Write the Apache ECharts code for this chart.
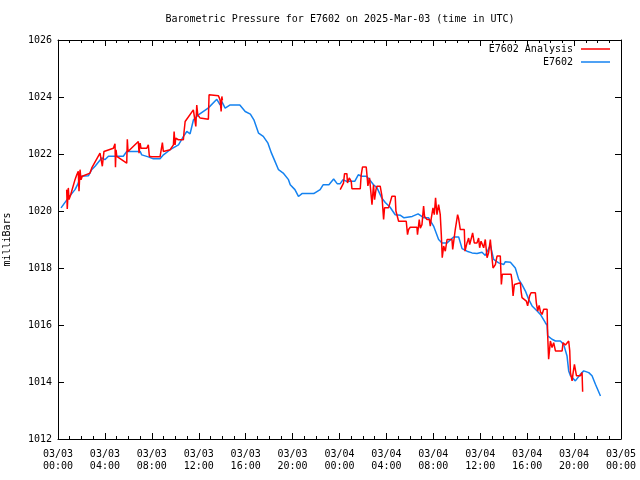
<!DOCTYPE html>
<html>
<head>
<meta charset="utf-8">
<script src="https://cdn.jsdelivr.net/npm/echarts@6/dist/echarts.min.js"></script>
<style>html,body{margin:0;padding:0;background:#fff}#c{width:640px;height:480px}</style>
</head>
<body>
<div id="c"></div>
<script>
// Hours since 2025-03-03 00:00 UTC
var xTickLabels = ['03/03\n00:00','03/03\n04:00','03/03\n08:00','03/03\n12:00','03/03\n16:00','03/03\n20:00',
  '03/04\n00:00','03/04\n04:00','03/04\n08:00','03/04\n12:00','03/04\n16:00','03/04\n20:00','03/05\n00:00'];

var obsTimes = [0.26,0.88,1.45,1.73,1.88,2.6,2.87,3.16,3.73,4.0,4.3,5.57,5.86,7.0,7.14,7.7,8.13,8.7,8.99,9.56,
  10.27,10.7,10.98,11.26,11.55,11.97,12.8,13.54,13.82,13.97,14.25,14.68,15.5,15.96,16.4,16.7,17.1,17.5,17.9,18.2,
  18.5,18.8,19.2,19.65,19.8,20.2,20.5,20.8,21.8,22.35,22.6,23.1,23.5,23.8,24.06,24.3,24.6,25.3,25.6,25.9,
  26.3,26.6,26.9,27.2,27.6,27.9,28.3,28.75,29.2,29.5,30.2,30.7,31.2,31.6,32.02,32.45,32.74,33.17,33.73,34.16,
  34.45,34.87,35.3,35.72,36.15,36.43,36.86,37.14,37.57,38.0,38.14,38.57,38.71,38.99,39.28,39.56,39.85,40.13,40.42,40.85,
  41.13,41.55,41.7,41.75,42.12,42.41,42.83,43.11,43.4,43.54,43.69,44.11,44.54,44.82,45.25,45.53,45.82,46.25];
var obsValues = [1020.11,1020.46,1020.75,1020.98,1021.22,1021.24,1021.45,1021.57,1021.86,1021.8,1021.92,1021.92,1022.09,1022.09,1021.97,1021.9,1021.83,1021.83,1021.97,1022.15,
  1022.32,1022.62,1022.79,1022.71,1023.2,1023.37,1023.61,1023.92,1023.72,1023.84,1023.61,1023.72,1023.72,1023.49,1023.4,1023.2,1022.73,1022.62,1022.38,1022.03,
  1021.74,1021.45,1021.33,1021.1,1020.92,1020.75,1020.51,1020.61,1020.61,1020.75,1020.92,1020.92,1021.12,1020.96,1020.96,1021.1,1021.04,1021.04,1021.27,1021.22,
  1021.22,1021.08,1020.92,1020.81,1020.46,1020.3,1020.14,1019.87,1019.85,1019.76,1019.81,1019.9,1019.76,1019.76,1019.47,1019.0,1018.88,1018.88,1019.09,1019.09,
  1018.68,1018.59,1018.53,1018.51,1018.55,1018.44,1018.8,1018.3,1018.18,1018.12,1018.22,1018.2,1018.24,1018.0,1017.6,1017.42,1017.19,1016.9,1016.67,1016.49,
  1016.37,1016.08,1015.99,1015.62,1015.5,1015.44,1015.44,1015.32,1014.91,1014.39,1014.22,1014.04,1014.27,1014.39,1014.33,1014.22,1013.92,1013.51];

var anaTimes1 = [0.74,0.79,0.88,0.94,1.08,1.22,1.45,1.6,1.73,1.79,1.88,1.96,2.07,2.73,2.88,3.58,3.73,3.78,3.92,4.72,
  4.86,4.9,4.95,5.01,5.86,5.91,5.97,6.85,6.91,7.0,7.08,7.57,7.7,7.79,7.99,8.7,8.9,8.98,9.13,9.56,
  9.84,9.9,9.98,10.04,10.26,10.69,10.75,10.84,10.98,11.54,11.69,11.75,11.83,11.92,12.12,12.82,12.88,13.68,13.82,13.91,13.97,14.02];
var anaValues1 = [1020.75,1020.07,1020.81,1020.4,1020.57,1020.57,1021.1,1021.27,1021.39,1020.69,1021.45,1021.1,1021.22,1021.33,1021.51,1022.03,1022.09,1021.57,1022.09,1022.2,
  1022.36,1021.54,1022.15,1021.92,1021.68,1022.52,1022.09,1022.44,1022.03,1022.38,1022.2,1022.2,1022.32,1021.92,1021.9,1021.9,1022.4,1022.09,1022.05,1022.15,
  1022.32,1022.79,1022.32,1022.56,1022.5,1022.5,1022.79,1023.14,1023.14,1023.55,1023.61,1022.97,1023.72,1023.37,1023.26,1023.22,1024.08,1024.04,1023.9,1023.49,1024.02,1023.88];

var anaTimes2 = [24.06,24.34,24.43,24.63,24.68,24.83,25.0,25.06,25.77,25.85,25.96,26.28,26.34,26.42,26.56,26.68,26.77,26.9,26.99,27.11,
  27.19,27.47,27.62,27.76,27.84,28.18,28.47,28.75,28.81,29.04,29.69,29.8,29.89,30.03,30.6,30.65,30.8,30.89,31.03,31.17,
  31.25,31.46,31.66,31.74,31.83,31.97,32.08,32.19,32.31,32.45,32.59,32.68,32.76,32.88,33.02,33.17,33.59,33.65,33.87,34.07,
  34.15,34.3,34.64,34.7,34.87,35.01,35.1,35.24,35.35,35.49,35.72,35.86,35.95,36.07,36.29,36.43,36.58,36.71,36.86,37.0,
  37.09,37.29,37.43,37.71,37.8,37.88,38.63,38.71,38.8,38.91,38.99,39.42,39.48,39.56,39.7,39.93,40.04,40.21,40.33,40.7,
  40.78,40.9,41.02,41.13,41.27,41.41,41.7,41.75,41.83,41.98,42.12,42.26,42.41,42.98,43.06,43.26,43.54,43.63,43.69,43.83,
  43.92,44.03,44.11,44.2,44.31,44.54,44.68,44.73];
var anaValues2 = [1020.75,1020.98,1021.31,1021.31,1020.98,1021.16,1021.04,1020.78,1020.78,1021.27,1021.54,1021.54,1021.27,1020.88,1021.16,1020.63,1020.22,1020.92,1020.4,1020.75,
  1020.87,1020.87,1020.52,1019.7,1020.11,1020.11,1020.52,1020.52,1020.0,1019.64,1019.64,1019.17,1019.35,1019.43,1019.43,1019.17,1019.7,1019.4,1019.52,1020.17,
  1019.81,1019.7,1019.7,1019.47,1019.76,1020.11,1019.87,1020.46,1019.87,1020.22,1019.87,1019.17,1018.36,1018.77,1018.59,1019.0,1019.0,1018.65,1019.35,1019.87,
  1019.75,1019.35,1019.35,1018.59,1018.88,1019.05,1018.82,1018.82,1019.23,1018.88,1018.88,1019.05,1018.71,1018.94,1018.71,1019.0,1018.36,1018.53,1019.0,1018.36,
  1018.0,1018.12,1018.42,1018.42,1017.42,1017.78,1017.78,1017.55,1017.02,1017.42,1017.48,1017.48,1017.19,1016.96,1016.9,1016.84,1016.67,1017.02,1017.13,1017.13,
  1016.78,1016.49,1016.69,1016.46,1016.37,1016.55,1016.55,1015.62,1014.8,1015.44,1015.21,1015.38,1015.09,1015.09,1015.38,1015.3,1015.44,1015.09,1014.33,1014.04,
  1014.33,1014.62,1014.68,1014.22,1014.16,1014.22,1014.33,1013.66];

function zip(t, v) { return t.map(function (x, i) { return [x, v[i]]; }); }
var anaData = zip(anaTimes1, anaValues1).concat([[19, null]], zip(anaTimes2, anaValues2));
var obsData = zip(obsTimes, obsValues);

var FONT = 'DejaVu Sans Mono';
var txt = { fontFamily: FONT, fontSize: 10, color: '#000' };
var lineS = { color: '#000', width: 1 };

var baseX = {
  type: 'value', min: 0, max: 48, interval: 4,
  axisLine: { show: true, onZero: false, lineStyle: lineS },
  axisTick: { show: true, inside: true, length: 6, lineStyle: lineS },
  minorTick: { show: true, splitNumber: 4, length: 3, lineStyle: lineS },
  splitLine: { show: false }, minorSplitLine: { show: false }
};
var baseY = {
  type: 'value', min: 1012, max: 1026, interval: 2,
  axisLine: { show: true, onZero: false, lineStyle: lineS },
  axisTick: { show: true, inside: true, length: 6, lineStyle: lineS },
  splitLine: { show: false }
};

var chart = echarts.init(document.getElementById('c'), null, { renderer: 'canvas' });
chart.setOption({
  animation: false,
  backgroundColor: '#fff',
  title: {
    text: 'Barometric Pressure for E7602 on 2025-Mar-03 (time in UTC)',
    left: 340, top: 14, textAlign: 'center', padding: 0,
    textStyle: { fontFamily: FONT, fontSize: 10, fontWeight: 'normal', color: '#000' }
  },
  grid: { left: 58, right: 19, top: 40, bottom: 41, containLabel: false, outerBoundsMode: 'none' },
  legend: [
    { data: ['E7602 Analysis'], orient: 'vertical', right: 30, top: 44, align: 'right', padding: 0,
      itemWidth: 29, itemHeight: 1.5, icon: 'rect', textStyle: { fontFamily: FONT, fontSize: 10, color: '#000', padding: [0, 3, 0, 0] } },
    { data: ['E7602'], orient: 'vertical', right: 30, top: 57, align: 'right', padding: 0,
      itemWidth: 29, itemHeight: 1.5, icon: 'rect', textStyle: { fontFamily: FONT, fontSize: 10, color: '#000', padding: [0, 3, 0, 0] } }
  ],
  xAxis: [
    Object.assign({}, baseX, {
      position: 'bottom',
      axisLabel: { show: true, margin: 9, lineHeight: 12, fontFamily: FONT, fontSize: 10, color: '#000',
        formatter: function (v) { return xTickLabels[Math.round(v / 4)]; } }
    }),
    Object.assign({}, baseX, { position: 'top', axisLabel: { show: false } })
  ],
  yAxis: [
    Object.assign({}, baseY, {
      position: 'left',
      name: 'milliBars', nameLocation: 'middle', nameGap: 46, nameRotate: 90,
      nameTextStyle: txt,
      axisLabel: { show: true, margin: 6, fontFamily: FONT, fontSize: 10, color: '#000',
        formatter: function (v) { return String(v); } }
    }),
    Object.assign({}, baseY, { position: 'right', axisLabel: { show: false } })
  ],
  series: [
    { name: 'E7602 Analysis', type: 'line', xAxisIndex: 0, yAxisIndex: 0, data: anaData,
      showSymbol: false, symbol: 'none', connectNulls: false,
      lineStyle: { color: '#ff0000', width: 1.5 }, itemStyle: { color: '#ff0000' }, z: 3 },
    { name: 'E7602', type: 'line', xAxisIndex: 0, yAxisIndex: 0, data: obsData,
      showSymbol: false, symbol: 'none',
      lineStyle: { color: '#1482f0', width: 1.5 }, itemStyle: { color: '#1482f0' }, z: 2 }
  ]
});
</script>
</body>
</html>
